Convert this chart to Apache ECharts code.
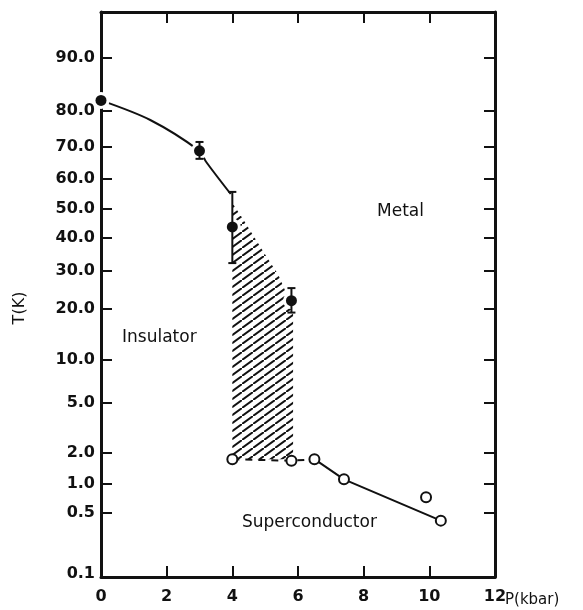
<!DOCTYPE html>
<html lang="en">
  <head>
    <meta charset="UTF-8" />
    <title>Phase diagram</title>
    <script src="https://cdn.jsdelivr.net/npm/echarts@6/dist/echarts.min.js"></script>
    <style>
      html, body { margin: 0; padding: 0; background: #fff; }
      #main { width: 583px; height: 610px; }
    </style>
  </head>
  <body>
    <div id="main"></div>
    <script>
      // tick labels
      const pTicks = [0, 2, 4, 6, 8, 10, 12];
      const tTicks = [0.1, 0.5, 1, 2, 5, 10, 20, 30, 40, 50, 60, 70, 80, 90];

      // filled points (metal-insulator boundary) with error bars
      const filledP = [0, 3.0, 4.0, 5.8];
      const filledT = [82, 68.8, 43.8, 22.2];
      const errLow = [null, 66.3, 32.4, 19.3];
      const errHigh = [null, 71.4, 55.7, 25.5];

      // boundary curve
      const curveP = [0, 1.5, 3.0, 3.2, 3.95];
      const curveT = [82, 77.5, 68.8, 65.4, 55];

      // open points (superconducting Tc)
      const openP = [4.0, 5.8, 6.5, 7.4, 9.9, 10.35];
      const openT = [1.8, 1.75, 1.8, 1.15, 0.77, 0.45];

      const dashP = [4.0, 5.8, 6.5];
      const dashT = [1.8, 1.75, 1.8];
      const scP = [6.5, 7.4, 10.35];
      const scT = [1.8, 1.15, 0.45];

      // hatched region outline
      const hatchP = [4.0, 4.0, 4.3, 5.0, 5.4, 5.85, 5.85];
      const hatchT = [1.8, 52, 47, 35, 29, 20, 1.8];

      // the T axis of the original is not linear: break points of its scale
      const scaleT = tTicks;
      const scaleH = [3, 64, 93, 124, 174, 217, 268, 306, 339, 368, 398, 430, 466, 519];
      const H_MAX = 565;

      function tPos(t) {
        let i = 0;
        while (i < scaleT.length - 2 && t > scaleT[i + 1]) i++;
        const f = (t - scaleT[i]) / (scaleT[i + 1] - scaleT[i]);
        return scaleH[i] + f * (scaleH[i + 1] - scaleH[i]);
      }

      const FONT = "DejaVu Sans";
      const hPos = scaleH.slice();

      function tLabel(v) {
        const i = hPos.findIndex((h) => Math.abs(h - v) < 0.01);
        return i < 0 ? "" : tTicks[i].toFixed(1);
      }

      // hatch pattern
      const pat = document.createElement("canvas");
      const pw = 11, ph = 8;
      pat.width = pw;
      pat.height = ph;
      const pc = pat.getContext("2d");
      pc.strokeStyle = "#111";
      pc.lineWidth = 2;
      [[0, 0], [pw, -ph], [-pw, ph]].forEach(([dx, dy]) => {
        pc.beginPath();
        pc.moveTo(0 + dx, ph + dy);
        pc.lineTo(pw + dx, 0 + dy);
        pc.stroke();
      });

      const chart = echarts.init(document.getElementById("main"), null, { renderer: "canvas" });

      const axisLine = { show: true, onZero: false, lineStyle: { color: "#111", width: 3 } };
      const tick = { show: true, inside: true, length: 11, lineStyle: { color: "#111", width: 2 } };

      const option = {
        backgroundColor: "#fff",
        animation: false,
        grid: { left: 101, right: 88, top: 12, bottom: 33 },
        xAxis: [
          {
            type: "value",
            min: 0,
            max: 12,
            interval: 2,
            axisLine: axisLine,
            axisTick: tick,
            splitLine: { show: false },
            axisLabel: {
              color: "#111",
              fontFamily: FONT,
              fontSize: 16,
              fontWeight: "bold",
              margin: 12,
              customValues: pTicks,
            },
          },
          {
            type: "value",
            position: "top",
            min: 0,
            max: 12,
            interval: 2,
            axisLine: axisLine,
            axisTick: tick,
            splitLine: { show: false },
            axisLabel: { show: false },
          },
        ],
        yAxis: [
          {
            type: "value",
            min: 0,
            max: H_MAX,
            axisLine: axisLine,
            axisTick: Object.assign({}, tick, { customValues: hPos.slice(1) }),
            splitLine: { show: false },
            axisLabel: {
              color: "#111",
              fontFamily: FONT,
              fontSize: 16,
              fontWeight: "bold",
              margin: 6,
              customValues: hPos,
              formatter: tLabel,
            },
          },
          {
            type: "value",
            position: "right",
            min: 0,
            max: H_MAX,
            axisLine: axisLine,
            axisTick: Object.assign({}, tick, { customValues: hPos.slice(1) }),
            splitLine: { show: false },
            axisLabel: { show: false },
          },
        ],
        graphic: [
          { type: "text", x: 20, y: 308, rotation: Math.PI / 2,
            style: { text: "T(K)", font: "16px " + FONT, fill: "#111", align: "center", verticalAlign: "middle" } },
          { type: "text", x: 505, y: 600,
            style: { text: "P(kbar)", font: "15px " + FONT, fill: "#111", align: "left", verticalAlign: "middle" } },
          { type: "text", x: 377, y: 212,
            style: { text: "Metal", font: "17px " + FONT, fill: "#111", align: "left", verticalAlign: "middle" } },
          { type: "text", x: 122, y: 338,
            style: { text: "Insulator", font: "17px " + FONT, fill: "#111", align: "left", verticalAlign: "middle" } },
          { type: "text", x: 242, y: 523,
            style: { text: "Superconductor", font: "17px " + FONT, fill: "#111", align: "left", verticalAlign: "middle" } },
        ],
        series: [
          {
            type: "custom",
            z: 1,
            data: [0],
            renderItem: (params, api) => {
              const pts = hatchP.map((p, i) => api.coord([p, tPos(hatchT[i])]));
              return {
                type: "polygon",
                shape: { points: pts },
                style: { fill: { image: pat, repeat: "repeat" }, stroke: null },
              };
            },
          },
          {
            type: "line",
            z: 2,
            smooth: 0.3,
            symbol: "none",
            lineStyle: { color: "#111", width: 2 },
            data: curveP.map((p, i) => [p, tPos(curveT[i])]),
          },
          {
            type: "line",
            z: 2,
            symbol: "none",
            lineStyle: { color: "#111", width: 2, type: [7, 6] },
            data: dashP.map((p, i) => [p, tPos(dashT[i])]),
          },
          {
            type: "line",
            z: 2,
            symbol: "none",
            lineStyle: { color: "#111", width: 2 },
            data: scP.map((p, i) => [p, tPos(scT[i])]),
          },
          {
            // white halo round the filled dots
            type: "scatter",
            z: 3,
            symbolSize: 17,
            itemStyle: { color: "#fff", opacity: 1 },
            data: filledP.map((p, i) => [p, tPos(filledT[i])]),
          },
          {
            type: "scatter",
            z: 4,
            symbolSize: 11,
            itemStyle: { color: "#111", opacity: 1 },
            data: filledP.map((p, i) => [p, tPos(filledT[i])]),
          },
          {
            type: "scatter",
            z: 4,
            symbolSize: 10,
            itemStyle: { color: "#fff", borderColor: "#111", borderWidth: 2, opacity: 1 },
            data: openP.map((p, i) => [p, tPos(openT[i])]),
          },
          {
            type: "custom",
            z: 5,
            data: filledP
              .map((p, i) => [p, errLow[i], errHigh[i]])
              .filter((d) => d[1] != null)
              .map((d) => [d[0], tPos(d[1]), tPos(d[2])]),
            renderItem: (params, api) => {
              const lo = api.coord([api.value(0), api.value(1)]);
              const hi = api.coord([api.value(0), api.value(2)]);
              const w = 4;
              const st = { stroke: "#111", lineWidth: 2 };
              return {
                type: "group",
                children: [
                  { type: "line", shape: { x1: lo[0], y1: lo[1], x2: hi[0], y2: hi[1] }, style: st },
                  { type: "line", shape: { x1: lo[0] - w, y1: lo[1], x2: lo[0] + w, y2: lo[1] }, style: st },
                  { type: "line", shape: { x1: hi[0] - w, y1: hi[1], x2: hi[0] + w, y2: hi[1] }, style: st },
                ],
              };
            },
          },
        ],
      };

      chart.setOption(option);
    </script>
  </body>
</html>
